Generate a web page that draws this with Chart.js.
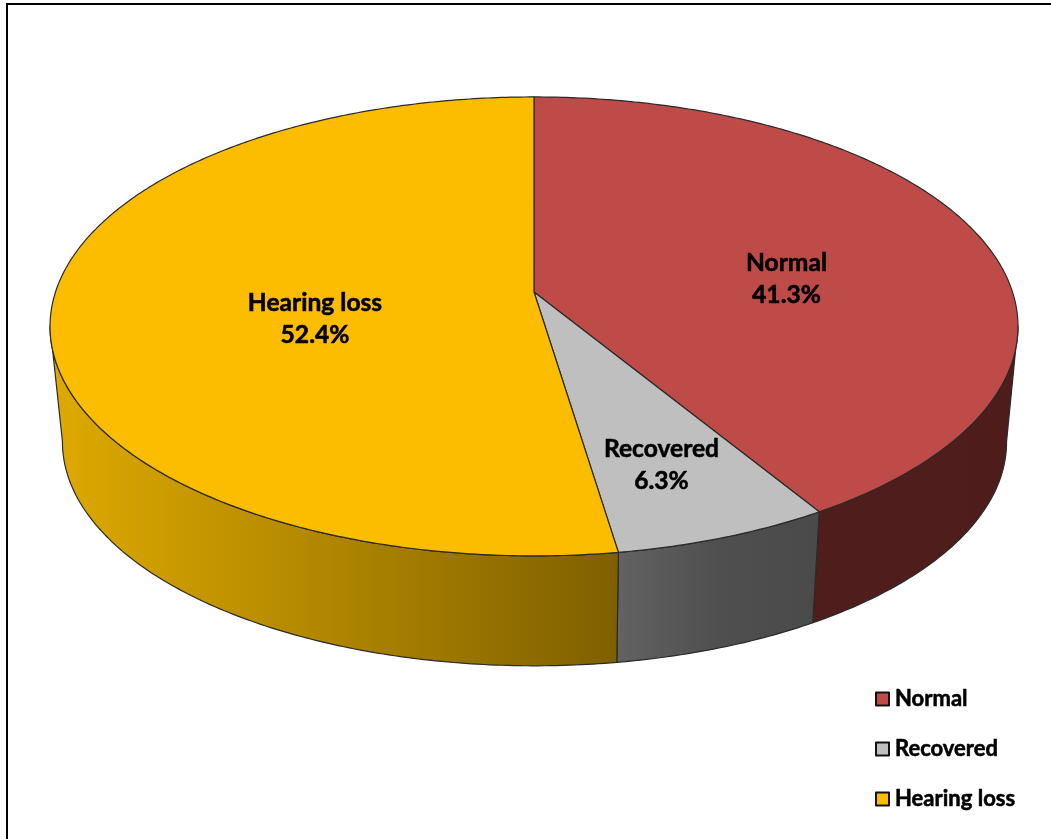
<!DOCTYPE html>
<html>
<head>
<meta charset="utf-8">
<style>html,body{margin:0;padding:0;background:#fff}canvas{display:block}</style>
<script src="https://cdn.jsdelivr.net/npm/chart.js@4"></script>
</head>
<body>
<canvas id="c" width="1051" height="839"></canvas>
<script>
const categories = ['Normal', 'Recovered', 'Hearing loss'];
const percentages = [41.3, 6.3, 52.4];
const topColors = ['#BF4B49', '#BFBFBF', '#FCBC00'];
const sideColorStops = [['#4F1D1C', '#4F1D1C', '#4D1C1B'], ['#626262', '#4F4F4F', '#4A4A4A'], ['#DFAA00', '#AF8500', '#7F6000']];
const labelCentres = [[786.5, 279], [661.5, 465.5], [315, 319.5]];
const legendCentresY = [699, 749, 799];

// perspective of the tilted disc
const TOP = {cx: 534, cy: 292, a: 224.3, b: 478.5, k: -0.15};
const BOT = {cx: 534.5, cy: 408.5, a: 218.7, b: 466.7, k: -0.15};
const FONT = 'Lato, "Open Sans", sans-serif';

function project(p, theta, r) {
  const u = Math.sin(theta) * r, v = -Math.cos(theta) * r, d = 1 + p.k * v;
  return [p.cx + p.b * u / d, p.cy + p.a * v / d];
}
function rim(ctx, p, t0, t1, first) {
  const n = Math.max(2, Math.ceil(Math.abs(t1 - t0) * 90));
  for (let i = 0; i <= n; i++) {
    const q = project(p, t0 + (t1 - t0) * i / n, 1);
    if (i === 0 && first) ctx.moveTo(q[0], q[1]); else ctx.lineTo(q[0], q[1]);
  }
}
function boldText(ctx, text, x, y) {
  ctx.lineWidth = 0.55;
  ctx.strokeStyle = '#000';
  ctx.fillStyle = '#000';
  ctx.strokeText(text, x, y);
  ctx.fillText(text, x, y);
}
const disc3d = {
  id: 'disc3d',
  beforeDraw(chart) {
    const ctx = chart.ctx;
    ctx.save();
    ctx.fillStyle = '#fff';
    ctx.fillRect(0, 0, chart.width, chart.height);
    ctx.strokeStyle = '#000';
    ctx.lineWidth = 2;
    ctx.beginPath();
    ctx.moveTo(7, chart.height);
    ctx.lineTo(7, 4);
    ctx.lineTo(chart.width, 4);
    ctx.stroke();
    ctx.restore();
  },
  beforeDatasetDraw(chart) {
    const ctx = chart.ctx, arcs = chart.getDatasetMeta(0).data;
    const visA = Math.PI - Math.asin(0.989), visB = Math.PI + Math.asin(0.989);
    ctx.save();
    ctx.lineJoin = 'round';
    ctx.lineWidth = 1.2;
    ctx.strokeStyle = '#2a2a2a';
    // side walls
    arcs.forEach((arc, i) => {
      const s = Math.max(arc.startAngle + Math.PI / 2, visA);
      const e = Math.min(arc.endAngle + Math.PI / 2, visB);
      if (e <= s) return;
      const x0 = project(TOP, s, 1)[0], x1 = project(TOP, e, 1)[0];
      const g = ctx.createLinearGradient(x1, 0, x0, 0);
      g.addColorStop(0, sideColorStops[i][0]);
      g.addColorStop(0.5, sideColorStops[i][1]);
      g.addColorStop(1, sideColorStops[i][2]);
      ctx.fillStyle = g;
      ctx.beginPath();
      rim(ctx, TOP, s, e, true);
      rim(ctx, BOT, e, s, false);
      ctx.closePath();
      ctx.fill();
      ctx.stroke();
    });
    // top face
    arcs.forEach((arc, i) => {
      const s = arc.startAngle + Math.PI / 2, e = arc.endAngle + Math.PI / 2;
      ctx.fillStyle = topColors[i];
      ctx.beginPath();
      ctx.moveTo(TOP.cx, TOP.cy);
      rim(ctx, TOP, s, e, false);
      ctx.closePath();
      ctx.fill();
      ctx.stroke();
    });
    // labels
    ctx.font = 'bold 24.6px ' + FONT;
    ctx.textAlign = 'center';
    ctx.textBaseline = 'middle';
    categories.forEach((c, i) => {
      boldText(ctx, c, labelCentres[i][0], labelCentres[i][1] - 16);
      boldText(ctx, percentages[i].toFixed(1) + '%', labelCentres[i][0], labelCentres[i][1] + 16);
    });
    // legend
    ctx.font = 'bold 22px ' + FONT;
    ctx.textAlign = 'left';
    categories.forEach((c, i) => {
      const y = legendCentresY[i];
      ctx.fillStyle = topColors[i];
      ctx.strokeStyle = '#111';
      ctx.lineWidth = 2;
      ctx.beginPath();
      ctx.rect(876, y - 6.5, 13, 13);
      ctx.fill();
      ctx.stroke();
      boldText(ctx, c, 895, y);
    });
    ctx.restore();
    return false;
  }
};
new Chart(document.getElementById('c'), {
  type: 'pie',
  data: {
    labels: categories,
    datasets: [{data: percentages, backgroundColor: topColors, borderColor: '#000', borderWidth: 2}]
  },
  options: {
    responsive: false,
    animation: false,
    plugins: {
      tooltip: {enabled: false},
      legend: {display: false}
    }
  },
  plugins: [disc3d]
});
</script>
</body>
</html>
